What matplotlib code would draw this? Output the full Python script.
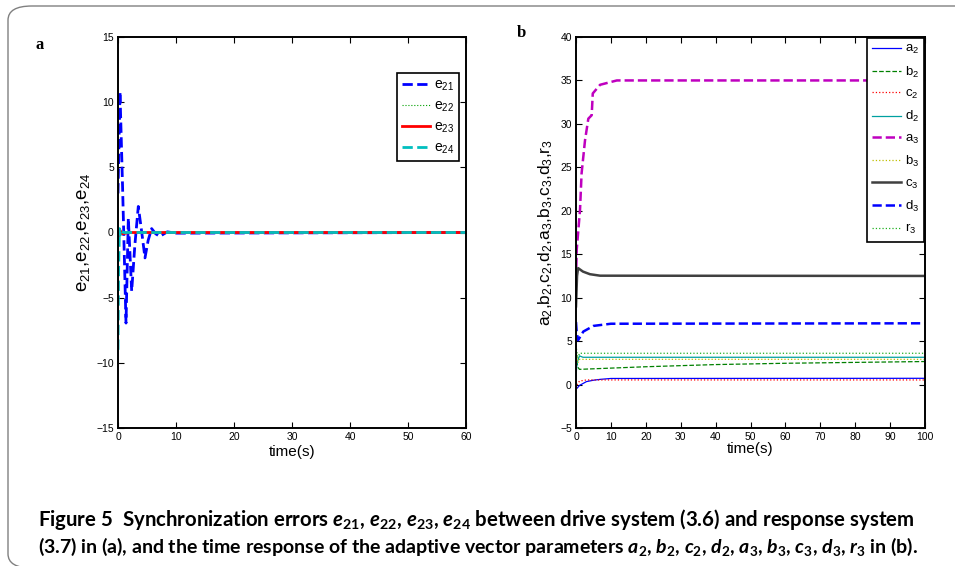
import numpy as np
import matplotlib
matplotlib.use("Agg")
import matplotlib.pyplot as plt
from matplotlib.patches import FancyBboxPatch

plt.rcParams['font.family'] = ['Liberation Sans', 'DejaVu Sans']
plt.rcParams['mathtext.fontset'] = 'custom'
plt.rcParams['mathtext.rm'] = 'Lato:bold'
plt.rcParams['mathtext.it'] = 'Lato:italic:bold'
plt.rcParams['mathtext.bf'] = 'Lato:bold'
plt.rcParams['mathtext.sf'] = 'Liberation Sans'

#############################################
# panel a : synchronization errors

t_e21 = [0, 0.34, 0.8, 1.38, 1.78, 2.36, 2.9, 3.5, 4.1, 4.65, 5.2, 5.8, 6.5, 7.2, 8.5, 10, 60]
e21 = [3.0, 10.8, 3.3, -6.95, 1.1, -4.5, -1.0, 2.0, 0.0, -1.95, -0.6, 0.3, -0.1, -0.3, 0.05, -0.05, 0.0]

t_e22 = [0, 0.2, 0.5, 1, 60]
e22 = [0.5, -0.3, 0.1, 0.0, 0.0]

t_e23 = [0, 0.3, 0.7, 2, 10, 20, 30, 40, 50, 60]
e23 = [-0.5, 0.2, -0.1, 0.0, 0.0, 0.0, 0.0, 0.0, 0.0, 0.0]

t_e24 = [0, 0.1, 0.25, 0.4, 0.6, 1, 60]
e24 = [-9.0, -3.0, 0.3, -0.2, 0.1, 0.0, 0.0]

# panel b : adaptive parameters
t_a2 = [0, 0.3, 1, 3, 5, 7, 10, 100]
a2 = [-0.2, -0.43, -0.1, 0.34, 0.5, 0.6, 0.7, 0.72]

t_b2 = [0, 0.5, 1, 20, 40, 60, 80, 100]
b2 = [3.5, 2.0, 1.75, 2.05, 2.3, 2.45, 2.55, 2.65]

t_c2 = [0, 0.3, 1, 3, 100]
c2 = [-0.8, 0.0, 0.4, 0.53, 0.53]

t_d2 = [0, 0.3, 1, 2, 100]
d2 = [1.0, 2.5, 3.3, 3.14, 3.14]

t_a3 = [0, 0.2, 1.15, 1.6, 2.58, 3.53, 4.5, 4.8, 6.9, 11.7, 100]
a3 = [12.0, 15.5, 20.1, 24.3, 28.1, 30.6, 31.0, 33.5, 34.5, 35.0, 35.0]

t_b3 = [0, 0.5, 1, 100]
b3 = [4.0, 2.5, 2.9, 2.9]

t_c3 = [0, 0.3, 0.6, 2, 4, 6.9, 100]
c3 = [9.0, 12.5, 13.4, 13.0, 12.7, 12.53, 12.5]

t_d3 = [0, 0.2, 0.6, 2.1, 5, 10, 100]
d3 = [7.2, 6.0, 5.1, 6.1, 6.75, 7.0, 7.05]

t_r3 = [0, 0.5, 1, 100]
r3 = [4.5, 3.0, 3.6, 3.6]

names_a = ['21', '22', '23', '24']
names_b = [('a', '2'), ('b', '2'), ('c', '2'), ('d', '2'), ('a', '3'),
           ('b', '3'), ('c', '3'), ('d', '3'), ('r', '3')]

#############################################

def sub(letter, idx):
    # matlab style label: plain letter, sans subscript
    return letter + r'$_{\mathsf{' + idx + '}}$'

fig = plt.figure(figsize=(9.55, 5.66), dpi=100)

# rounded frame around the figure
frame = FancyBboxPatch((8 / 955, 1 - 568 / 566), 1.2, (568 - 6) / 566,
                       boxstyle="round,pad=0,rounding_size=0.025",
                       transform=fig.transFigure, fill=False,
                       edgecolor='#808080', linewidth=1.0, clip_on=False)
fig.patches.append(frame)

def style_axes(ax):
    for s in ax.spines.values():
        s.set_linewidth(1.4)
    ax.tick_params(direction='in', top=True, right=True, length=4,
                   width=0.8, labelsize=7.5, pad=3)

lab_a = [sub('e', n) for n in names_a]
lab_b = [sub(l, n) for l, n in names_b]

ax1 = fig.add_axes([118 / 955, 1 - 428 / 566, 348 / 955, 391 / 566])
ax1.plot(t_e21, e21, '--', color='#0000ff', lw=2.0, label=lab_a[0])
ax1.plot(t_e22, e22, ':', color='#00a000', lw=0.8, label=lab_a[1])
ax1.plot(t_e23, e23, '-', color='#ff0000', lw=2.0, label=lab_a[2])
ax1.plot(t_e24, e24, '--', color='#00bfbf', lw=2.0, label=lab_a[3])
ax1.set_xlim(0, 60)
ax1.set_ylim(-15, 15)
ax1.set_xticks(np.arange(0, 61, 10))
ax1.set_yticks(np.arange(-15, 16, 5))
style_axes(ax1)
ax1.set_xlabel('time(s)', fontsize=11, labelpad=2)
ax1.set_ylabel(','.join(lab_a), fontsize=13.5, labelpad=3)
leg1 = ax1.legend(loc='upper right', bbox_to_anchor=(1.0, 0.925), fontsize=10,
                  handlelength=2.0, handletextpad=0.3, labelspacing=0.42,
                  borderpad=0.35, fancybox=False, framealpha=1, edgecolor='black')
leg1.get_frame().set_linewidth(1.2)

ax2 = fig.add_axes([576 / 955, 1 - 428 / 566, 349 / 955, 391 / 566])
ax2.plot(t_a2, a2, '-', color='#0000ff', lw=0.9, label=lab_b[0])
ax2.plot(t_b2, b2, '--', color='#008000', lw=0.9, label=lab_b[1])
ax2.plot(t_c2, c2, ':', color='#ff0000', lw=0.9, label=lab_b[2])
ax2.plot(t_d2, d2, '-', color='#00a0a0', lw=0.9, label=lab_b[3])
ax2.plot(t_a3, a3, '--', color='#bf00bf', lw=1.8, label=lab_b[4])
ax2.plot(t_b3, b3, ':', color='#bfbf00', lw=0.9, label=lab_b[5])
ax2.plot(t_c3, c3, '-', color='#404040', lw=1.8, label=lab_b[6])
ax2.plot(t_d3, d3, '--', color='#0000ff', lw=1.8, label=lab_b[7])
ax2.plot(t_r3, r3, ':', color='#20b020', lw=0.9, label=lab_b[8])
ax2.set_xlim(0, 100)
ax2.set_ylim(-5, 40)
ax2.set_xticks(np.arange(0, 101, 10))
ax2.set_yticks(np.arange(-5, 41, 5))
style_axes(ax2)
ax2.set_xlabel('time(s)', fontsize=11, labelpad=0)
ax2.set_ylabel(','.join(lab_b), fontsize=12.5, labelpad=4)
leg2 = ax2.legend(loc='upper right', fontsize=9.5, borderaxespad=0.05,
                  handlelength=2.2, handletextpad=0.3, labelspacing=0.62,
                  borderpad=0.4, fancybox=False, framealpha=1, edgecolor='black')
leg2.get_frame().set_linewidth(1.2)

fig.text(40 / 955, 1 - 45 / 566, 'a', fontsize=12, fontweight='bold',
         family='Liberation Serif', ha='center', va='center')
fig.text(521 / 955, 1 - 33 / 566, 'b', fontsize=12, fontweight='bold',
         family='Liberation Serif', ha='center', va='center')

cap1 = (r'Figure 5  Synchronization errors $e_{21}$, $e_{22}$, $e_{23}$, $e_{24}$ '
        r'between drive system (3.6) and response system')
cap2 = (r'(3.7) in (a), and the time response of the adaptive vector parameters '
        r'$a_2$, $b_2$, $c_2$, $d_2$, $a_3$, $b_3$, $c_3$, $d_3$, $r_3$ in (b).')
fig.text(38 / 955, 1 - 519 / 566, cap1, fontsize=14.7, fontweight='bold',
         family='Lato', ha='left', va='center')
fig.text(38 / 955, 1 - 547 / 566, cap2, fontsize=14, fontweight='bold',
         family='Lato', ha='left', va='center')

fig.savefig('out.png', dpi=100)
